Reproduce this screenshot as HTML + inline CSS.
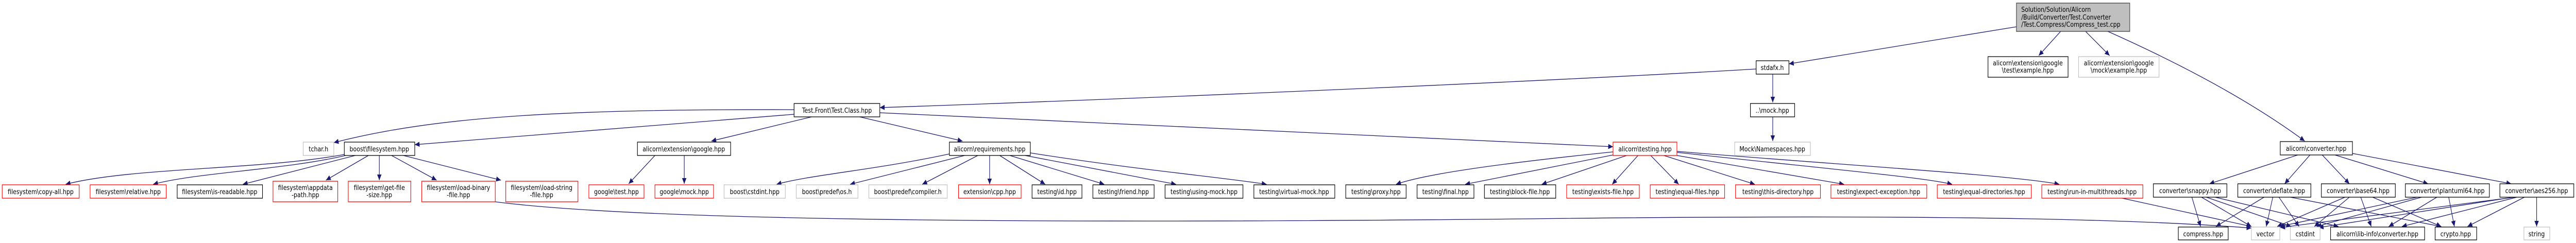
<!DOCTYPE html>
<html><head><meta charset="utf-8"><style>
html,body{margin:0;padding:0;background:#fff;width:100%;height:100%;overflow:hidden;}
svg{display:block;width:100vw;height:100vh;}
text{font-family:"DejaVu Sans","Liberation Sans",sans-serif;font-size:13px;fill:#000;text-anchor:middle;}
.e{fill:none;stroke:#191970;stroke-width:1.3;marker-end:url(#a);}
.b{fill:#fff;stroke:#000;stroke-width:1.3;}
.g{fill:#fff;stroke:#bfbfbf;stroke-width:1.3;}
.r{fill:#fff;stroke:#ff0000;stroke-width:1.3;}
</style></head><body>
<svg viewBox="0 0 5888 472" preserveAspectRatio="none" xmlns="http://www.w3.org/2000/svg">
<defs><marker id="a" markerUnits="userSpaceOnUse" markerWidth="12" markerHeight="10" refX="11" refY="5" orient="auto"><path d="M0,0 L11,5 L0,10 z" fill="#191970"/></marker></defs>
<g>
<path class="e" d="M4609,52 C4400,80 4200,110 4089,124"/>
<path class="e" d="M4710,61 L4660,108"/>
<path class="e" d="M4767,61 L4822,108"/>
<path class="e" d="M4818,61 C5000,130 5150,200 5268,274"/>
<path class="e" d="M4014,134 C3500,160 2500,195 2011,209"/>
<path class="e" d="M4052,144 L4052,199"/>
<path class="e" d="M4052,227 L4052,274"/>
<path class="e" d="M1815,213 C1300,212 1000,225 763,277"/>
<path class="e" d="M1815,222 L948,281"/>
<path class="e" d="M1855,227 L1626,274"/>
<path class="e" d="M1965,227 L2200,274"/>
<path class="e" d="M2011,219 L3687,285"/>
<path class="e" d="M787,300 C600,330 300,325 150,358"/>
<path class="e" d="M790,302 C650,330 450,335 350,358"/>
<path class="e" d="M812,302 L555,358"/>
<path class="e" d="M842,302 L745,350"/>
<path class="e" d="M867,302 L867,350"/>
<path class="e" d="M895,302 L998,350"/>
<path class="e" d="M922,302 L1145,350"/>
<path class="e" d="M1132,392 C1500,432 2500,434 3500,425 C4200,418 4800,420 5146,443"/>
<path class="e" d="M1497,302 L1437,357"/>
<path class="e" d="M1564,302 L1564,357"/>
<path class="e" d="M2170,299 C2000,330 1850,340 1775,358"/>
<path class="e" d="M2205,302 L1943,358"/>
<path class="e" d="M2235,302 L2108,358"/>
<path class="e" d="M2262,302 L2262,358"/>
<path class="e" d="M2285,302 L2389,358"/>
<path class="e" d="M2308,302 L2524,358"/>
<path class="e" d="M2343,302 L2688,358"/>
<path class="e" d="M2355,297 C2600,330 2800,345 2895,358"/>
<path class="e" d="M3687,295 C3400,320 3250,340 3191,358"/>
<path class="e" d="M3687,301 L3349,358"/>
<path class="e" d="M3718,302 L3524,358"/>
<path class="e" d="M3744,302 L3685,358"/>
<path class="e" d="M3773,302 L3837,358"/>
<path class="e" d="M3803,302 L4011,358"/>
<path class="e" d="M3833,302 L4215,358"/>
<path class="e" d="M3833,296 C4200,330 4400,345 4462,358"/>
<path class="e" d="M3833,294 C4200,320 4600,340 4707,358"/>
<path class="e" d="M4840,383 L5146,440"/>
<path class="e" d="M5252,301 L5050,357"/>
<path class="e" d="M5280,301 L5222,357"/>
<path class="e" d="M5308,301 L5370,357"/>
<path class="e" d="M5337,301 L5550,357"/>
<path class="e" d="M5377,298 L5740,357"/>
<path class="e" d="M5010,383 L5030,440"/>
<path class="e" d="M5032,383 L5146,440"/>
<path class="e" d="M5043,383 L5237,440"/>
<path class="e" d="M5063,383 L5345,440"/>
<path class="e" d="M5175,383 L5065,440"/>
<path class="e" d="M5195,383 L5180,440"/>
<path class="e" d="M5209,383 L5255,440"/>
<path class="e" d="M5235,383 L5580,440"/>
<path class="e" d="M5360,383 L5205,440"/>
<path class="e" d="M5370,383 L5290,440"/>
<path class="e" d="M5396,383 L5420,440"/>
<path class="e" d="M5423,383 L5580,440"/>
<path class="e" d="M5525,383 L5210,440"/>
<path class="e" d="M5535,383 L5295,440"/>
<path class="e" d="M5570,383 L5460,440"/>
<path class="e" d="M5597,383 L5610,440"/>
<path class="e" d="M5748,383 L5212,442"/>
<path class="e" d="M5745,383 L5300,442"/>
<path class="e" d="M5753,383 L5490,440"/>
<path class="e" d="M5770,383 L5640,440"/>
<path class="e" d="M5798,383 L5798,440"/>
</g>
<g>
<rect x="4609" y="6" width="259" height="55" fill="#bfbfbf" stroke="#404040" stroke-width="1.3"/>
<text x="4620" y="23" style="text-anchor:start">Solution/Solution/Alicorn</text>
<text x="4620" y="38" style="text-anchor:start">/Build/Converter/Test.Converter</text>
<text x="4620" y="52" style="text-anchor:start">/Test.Compress/Compress_test.cpp</text>

<rect class="b" x="4544" y="110" width="183" height="40"/><text x="4635" y="127">alicorn\extension\google</text><text x="4635" y="141">\test\example.hpp</text>
<rect class="g" x="4751" y="110" width="184" height="40"/><text x="4843" y="127">alicorn\extension\google</text><text x="4843" y="141">\mock\example.hpp</text>

<rect class="b" x="4014" y="118" width="75" height="26"/><text x="4051" y="136">stdafx.h</text>
<rect class="b" x="4001" y="201" width="101" height="26"/><text x="4051" y="219">..\mock.hpp</text>
<rect class="b" x="1815" y="201" width="196" height="26"/><text x="1913" y="219">Test.Front\Test.Class.hpp</text>

<rect class="g" x="693" y="276" width="70" height="26"/><text x="728" y="294">tchar.h</text>
<rect class="b" x="787" y="276" width="161" height="26"/><text x="867" y="294">boost\filesystem.hpp</text>
<rect class="b" x="1457" y="276" width="213" height="26"/><text x="1563" y="294">alicorn\extension\google.hpp</text>
<rect class="b" x="2170" y="276" width="185" height="26"/><text x="2262" y="294">alicorn\requirements.hpp</text>
<rect class="r" x="3687" y="276" width="146" height="26"/><text x="3760" y="294">alicorn\testing.hpp</text>
<rect class="g" x="3965" y="276" width="173" height="26"/><text x="4051" y="294">Mock\Namespaces.hpp</text>
<rect class="b" x="5212" y="275" width="165" height="26"/><text x="5294" y="293">alicorn\converter.hpp</text>

<rect class="r" x="5" y="359" width="176" height="26"/><text x="93" y="377">filesystem\copy-all.hpp</text>
<rect class="r" x="206" y="359" width="174" height="26"/><text x="293" y="377">filesystem\relative.hpp</text>
<rect class="b" x="405" y="359" width="195" height="26"/><text x="502" y="377">filesystem\is-readable.hpp</text>
<rect class="r" x="624" y="352" width="148" height="40"/><text x="698" y="369">filesystem\appdata</text><text x="698" y="383">-path.hpp</text>
<rect class="r" x="796" y="352" width="143" height="40"/><text x="867" y="369">filesystem\get-file</text><text x="867" y="383">-size.hpp</text>
<rect class="r" x="964" y="352" width="168" height="40"/><text x="1048" y="369">filesystem\load-binary</text><text x="1048" y="383">-file.hpp</text>
<rect class="r" x="1156" y="352" width="165" height="40"/><text x="1238" y="369">filesystem\load-string</text><text x="1238" y="383">-file.hpp</text>
<rect class="r" x="1346" y="359" width="126" height="26"/><text x="1409" y="377">google\test.hpp</text>
<rect class="r" x="1497" y="359" width="134" height="26"/><text x="1564" y="377">google\mock.hpp</text>
<rect class="g" x="1655" y="359" width="140" height="26"/><text x="1725" y="377">boost\cstdint.hpp</text>
<rect class="g" x="1820" y="359" width="141" height="26"/><text x="1890" y="377">boost\predef\os.h</text>
<rect class="g" x="1986" y="359" width="179" height="26"/><text x="2075" y="377">boost\predef\compiler.h</text>
<rect class="r" x="2191" y="359" width="143" height="26"/><text x="2262" y="377">extension\cpp.hpp</text>
<rect class="b" x="2359" y="359" width="114" height="26"/><text x="2416" y="377">testing\id.hpp</text>
<rect class="b" x="2498" y="359" width="140" height="26"/><text x="2568" y="377">testing\friend.hpp</text>
<rect class="b" x="2663" y="359" width="178" height="26"/><text x="2752" y="377">testing\using-mock.hpp</text>
<rect class="b" x="2866" y="359" width="185" height="26"/><text x="2958" y="377">testing\virtual-mock.hpp</text>
<rect class="b" x="3076" y="359" width="138" height="26"/><text x="3145" y="377">testing\proxy.hpp</text>
<rect class="b" x="3239" y="359" width="130" height="26"/><text x="3304" y="377">testing\final.hpp</text>
<rect class="b" x="3393" y="359" width="163" height="26"/><text x="3474" y="377">testing\block-file.hpp</text>
<rect class="r" x="3581" y="359" width="166" height="26"/><text x="3664" y="377">testing\exists-file.hpp</text>
<rect class="r" x="3772" y="359" width="170" height="26"/><text x="3857" y="377">testing\equal-files.hpp</text>
<rect class="r" x="3967" y="359" width="194" height="26"/><text x="4064" y="377">testing\this-directory.hpp</text>
<rect class="r" x="4185" y="359" width="219" height="26"/><text x="4294" y="377">testing\expect-exception.hpp</text>
<rect class="r" x="4428" y="359" width="215" height="26"/><text x="4535" y="377">testing\equal-directories.hpp</text>
<rect class="r" x="4667" y="359" width="231" height="26"/><text x="4782" y="377">testing\run-in-multithreads.hpp</text>

<rect class="b" x="4922" y="357" width="168" height="26"/><text x="5006" y="375">converter\snappy.hpp</text>
<rect class="b" x="5115" y="357" width="167" height="26"/><text x="5198" y="375">converter\deflate.hpp</text>
<rect class="b" x="5306" y="357" width="169" height="26"/><text x="5390" y="375">converter\base64.hpp</text>
<rect class="b" x="5498" y="357" width="192" height="26"/><text x="5594" y="375">converter\plantuml64.hpp</text>
<rect class="b" x="5714" y="357" width="169" height="26"/><text x="5798" y="375">converter\aes256.hpp</text>

<rect class="b" x="4979" y="441" width="114" height="25"/><text x="5036" y="459">compress.hpp</text>
<rect class="g" x="5146" y="441" width="65" height="25"/><text x="5178" y="459">vector</text>
<rect class="g" x="5235" y="441" width="68" height="25"/><text x="5269" y="459">cstdint</text>
<rect class="b" x="5327" y="441" width="215" height="25"/><text x="5434" y="459">alicorn\lib-info\converter.hpp</text>
<rect class="b" x="5566" y="441" width="95" height="25"/><text x="5613" y="459">crypto.hpp</text>
<rect class="g" x="5769" y="441" width="59" height="25"/><text x="5798" y="459">string</text>
</g>
</svg>
</body></html>
